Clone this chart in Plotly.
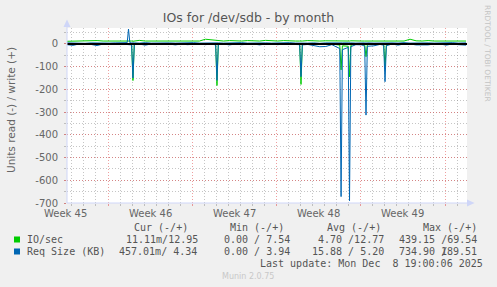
import plotly.graph_objects as go
import pandas as pd

# ---------------- data ----------------
START = "2025-11-06 14:15"
SPAN_DAYS = 33.23

# sample times, in days after START
days = [0.0, 0.5, 1.0, 1.5, 2.0, 2.5, 3.0, 3.5, 4.0, 4.5,
        5.0, 5.11, 5.22, 5.37, 5.48, 5.59,
        6.0, 6.5, 7.0, 7.5, 8.0, 8.5, 9.0, 9.5, 10.0, 10.5, 11.0, 11.5, 12.0,
        12.35, 12.46, 12.57,
        13.0, 13.5, 14.0, 14.5, 15.0, 15.5, 16.0, 16.5, 17.0, 17.5, 18.0, 18.5, 19.0,
        19.33, 19.44, 19.55,
        20.0, 20.5, 21.0, 21.5, 22.0,
        22.66, 22.77, 22.88,
        23.36, 23.47, 23.58,
        24.0, 24.5,
        24.73, 24.84, 24.95,
        25.5, 26.0,
        26.31, 26.42, 26.53,
        27.0, 27.5, 28.0, 28.5, 29.0, 29.5, 30.0, 30.5, 31.0, 31.5, 32.0, 32.5, 33.15]

io_write = [12, 13, 12, 15, 13, 15, 13, 13, 16, 13,
            14, 15, 13, 13, 12, 13,
            16, 13, 13, 15, 13, 13, 14, 13, 13, 14, 13, 21, 18,
            14, 13, 14,
            13, 15, 13, 13, 15, 13, 13, 16, 13, 13, 15, 13, 13,
            13, 12, 13,
            15, 13, 13, 14, 13,
            13, 12, 13,
            13, 13, 14,
            15, 13,
            13, 13, 14,
            13, 13,
            13, 13, 14,
            13, 15, 13, 21, 14, 13, 15, 13, 13, 15, 13, 14, 13]

io_read = [0, 0, 0, 0, 0, 0, 0, 0, 0, 0,
           0, 0, 0, -2, -161, -2,
           0, 0, 0, 0, 0, 0, 0, 0, 0, 0, 0, 0, 0,
           -2, -183, -2,
           0, 0, 0, 0, 0, 0, 0, 0, 0, 0, 0, 0, 0,
           -2, -178, -2,
           0, 0, 0, 0, 0,
           -5, -114, -8,
           -10, -145, -6,
           0, -1,
           -4, -56, -3,
           0, 0,
           -3, -100, -3,
           0, 0, 0, 0, 0, 0, 0, 0, 0, 0, 0, 0, 0]

req_write = [5, 4, 5, 3, 5, 4, 6, 4, 5, 5,
             6, 66, 6, 5, 4, 5,
             4, 6, 4, 5, 3, 5, 4, 5, 4, 6, 4, 5, 4,
             5, 4, 5,
             4, 5, 4, 6, 4, 5, 3, 5, 4, 5, 4, 6, 4,
             5, 4, 5,
             4, 5, 3, 5, 4,
             5, 4, 5,
             5, 4, 5,
             4, 6,
             5, 4, 5,
             4, 5,
             5, 4, 5,
             5, 4, 6, 4, 5, 3, 5, 4, 5, 4, 6, 4, 5]

req_read = [-3, -6, 0, 0, -2, -7, 0, 0, -2, 0,
            -3, -3, -2, -4, -150, -3,
            0, -5, 0, 0, -2, 0, -4, 0, -3, 0, 0, -3, 0,
            -4, -160, -3,
            0, -4, 0, -3, 0, 0, -4, 0, 0, -3, 0, 0, -2,
            -3, -144, -4,
            -2, -6, -12, -11, -3,
            -20, -672, -25,
            -15, -690, -12,
            -3, -4,
            -10, -313, -10,
            -8, -2,
            -5, -166, -8,
            0, -5, 0, 0, -4, -5, -4, 0, 0, -5, 0, -3, -5]

week_labels = ["Week 45", "Week 46", "Week 47", "Week 48", "Week 49"]
week_centers = ["2025-11-06 12:00", "2025-11-13 12:00", "2025-11-20 12:00",
                "2025-11-27 12:00", "2025-12-04 12:00"]

y_tick_vals = [0, -100, -200, -300, -400, -500, -600, -700]
y_tick_text = ["0", "-100", "-200", "-300", "-400", "-500", "-600", "-700"]

legend_header = ["Cur (-/+)", "Min (-/+)", "Avg (-/+)", "Max (-/+)"]
legend_names = ["IO/sec", "Req Size (KB)"]
io_stats = ["11.11m/12.95", "0.00 / 7.54", "4.70 /12.77", "439.15 /69.54"]
req_stats = ["457.01m/ 4.34", "0.00 / 3.94", "15.88 / 5.20", "734.90 /", "189.51"]

GREEN = "#00CC00"
BLUE = "#0066B3"

# ---------------- figure ----------------
t0 = pd.Timestamp(START)
t1 = t0 + pd.Timedelta(days=SPAN_DAYS)
x = [t0 + pd.Timedelta(days=d) for d in days]

fig = go.Figure()
for ys, col in [(io_read, GREEN), (io_write, GREEN), (req_read, BLUE), (req_write, BLUE)]:
    fig.add_trace(go.Scatter(x=x, y=ys, mode="lines", line=dict(color=col, width=1),
                             hoverinfo="skip", showlegend=False))

L, R, T, B = 67, 30, 28, 84
W, H = 497, 287
PW, PH = W - L - R, H - T - B


def px(v):
    return (v - L) / PW


def py(v):
    return (H - B - v) / PH


def date_to_paper(d):
    return (pd.Timestamp(d) - t0) / (t1 - t0)


MGRID = "rgba(224,80,80,0.55)"
GRID = "rgba(140,140,140,0.5)"
AXIS = "#CFD6F8"
FONT = "#666666"
DOT = "1px,2px"

fig.update_layout(
    width=W, height=H,
    margin=dict(l=L, r=R, t=T, b=B),
    paper_bgcolor="#F0F0F0", plot_bgcolor="#FFFFFF",
    showlegend=False,
    font=dict(family="DejaVu Sans", color=FONT, size=10),
    title=dict(text="IOs for /dev/sdb - by month", x=0.5, xanchor="center",
               y=1 - 18 / H, yanchor="middle",
               font=dict(family="DejaVu Sans", size=12.5, color="#555555")),
)

fig.update_xaxes(
    type="date", range=[t0, t1], showticklabels=False,
    tick0="2025-11-10", dtick=7 * 86400000,
    showgrid=True, gridcolor=MGRID, griddash=DOT, gridwidth=1,
    ticks="outside", ticklen=2, tickcolor=MGRID,
    minor=dict(dtick=86400000, tick0="2025-11-10", showgrid=True, gridcolor=GRID,
               griddash=DOT, ticks="outside", ticklen=2, tickcolor=GRID),
    showline=False, zeroline=False, fixedrange=True,
)
fig.update_yaxes(
    range=[-700, 70.4], tickvals=y_tick_vals, ticktext=y_tick_text,
    showgrid=True, gridcolor=MGRID, griddash=DOT, gridwidth=1,
    ticks="outside", ticklen=2, tickcolor=MGRID, ticklabelstandoff=4,
    tickfont=dict(family="DejaVu Sans", size=10, color=FONT),
    minor=dict(dtick=50, tick0=0, showgrid=True, gridcolor=GRID, griddash=DOT,
               ticks="outside", ticklen=2, tickcolor=GRID),
    showline=False, zeroline=False, fixedrange=True,
)

shapes = [
    dict(type="line", xref="paper", yref="y", x0=0, x1=1, y0=0, y1=0,
         line=dict(color="#000000", width=2), layer="above"),
    dict(type="line", xref="paper", yref="paper", x0=0, x1=0, y0=0, y1=py(24),
         line=dict(color=AXIS, width=1), layer="above"),
    dict(type="line", xref="paper", yref="paper", x0=0, x1=px(470), y0=0, y1=0,
         line=dict(color=AXIS, width=1), layer="above"),
    dict(type="path", xref="paper", yref="paper",
         path=f"M {px(63.5)} {py(27)} L {px(70.5)} {py(27)} L {px(67)} {py(19.5)} Z",
         fillcolor=AXIS, line=dict(width=0), layer="above"),
    dict(type="path", xref="paper", yref="paper",
         path=f"M {px(467)} {py(199.5)} L {px(467)} {py(206.5)} L {px(474.5)} {py(203)} Z",
         fillcolor=AXIS, line=dict(width=0), layer="above"),
    dict(type="rect", xref="paper", yref="paper", x0=px(14), x1=px(20),
         y0=py(242.5), y1=py(236.5), fillcolor=GREEN, line=dict(width=0)),
    dict(type="rect", xref="paper", yref="paper", x0=px(14), x1=px(20),
         y0=py(254.5), y1=py(248.5), fillcolor=BLUE, line=dict(width=0)),
]
fig.update_layout(shapes=shapes)

ann = []
for lab, c in zip(week_labels, week_centers):
    ann.append(dict(text=lab, x=date_to_paper(c), xref="paper", y=py(213), yref="paper",
                    xanchor="center", yanchor="middle", showarrow=False,
                    font=dict(family="DejaVu Sans", size=10, color=FONT)))

ann.append(dict(text="Units read (-) / write (+)", x=px(11), y=py(110),
                xref="paper", yref="paper", textangle=-90, showarrow=False,
                xanchor="center", yanchor="middle",
                font=dict(family="DejaVu Sans", size=10.5, color=FONT)))
ann.append(dict(text="RRDTOOL / TOBI OETIKER", x=px(487.5), y=py(53.5),
                xref="paper", yref="paper", textangle=90, showarrow=False,
                xanchor="center", yanchor="middle",
                font=dict(family="DejaVu Sans", size=7.5, color="#C4C4C4")))
ann.append(dict(text="Munin 2.0.75", x=px(248), y=py(276.5),
                xref="paper", yref="paper", showarrow=False,
                xanchor="center", yanchor="middle",
                font=dict(family="DejaVu Sans", size=8, color="#C8C8C8")))

MONO = dict(family="DejaVu Sans Mono", size=10, color="#555555")


def mono(text, xpx, ypx, anchor="left"):
    off = -1 if anchor == "left" else 1
    ann.append(dict(text=text.replace(" ", "&nbsp;"), x=px(xpx + off), y=py(ypx),
                    xref="paper", yref="paper", showarrow=False,
                    xanchor=anchor, yanchor="middle", font=MONO, borderpad=0))


for txt, xp in zip(legend_header, [134.3, 230, 327, 423]):
    mono(txt, xp, 227.5)
mono(legend_names[0], 26.7, 239.8)
for txt, xp in zip(io_stats, [125.7, 224, 317.7, 399]):
    mono(txt, xp, 239.8)
mono(legend_names[1], 26.7, 251.8)
for txt, xp in zip(req_stats, [119, 224, 311.7, 399, 441]):
    mono(txt, xp, 251.8)
mono("Last update: Mon Dec  8 19:00:06 2025", 482.5, 263.5, anchor="right")

fig.update_layout(annotations=ann)

fig.write_html("out.html")
